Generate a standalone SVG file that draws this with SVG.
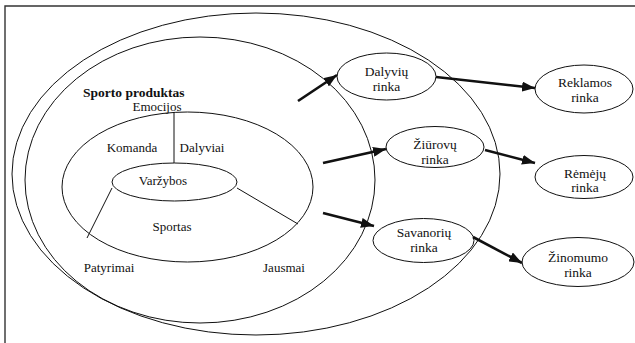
<svg xmlns="http://www.w3.org/2000/svg" width="635" height="343" viewBox="0 0 635 343">
<style>
.e{fill:none;stroke:#111;stroke-width:1}
.n{fill:none;stroke:#111;stroke-width:1}
text{font-family:'Liberation Serif','Times New Roman',serif;font-size:13px;fill:#111;text-anchor:middle}
.b{font-weight:bold;text-anchor:start;font-size:13.5px}
.r{font-size:13.5px}
.l{fill:none;stroke:#111;stroke-width:1}
.a{fill:none;stroke:#111;stroke-width:2.6;marker-end:url(#ah)}
</style>
<defs>
<marker id="ah" markerUnits="userSpaceOnUse" markerWidth="14" markerHeight="10" refX="13" refY="5" orient="auto">
<path d="M0,0 L13,5 L0,10 Z" fill="#111"/>
</marker>
</defs>
<rect width="635" height="343" fill="#fff"/>
<path d="M5,343 V6 H635" fill="none" stroke="#333" stroke-width="1.4"/>
<g id="outer">
<ellipse class="e" cx="256" cy="174" rx="244" ry="161"/>
</g>
<g id="product">
<ellipse class="e" cx="200" cy="180" rx="175" ry="143"/>
<text class="b" x="83" y="97">Sporto produktas</text>
<text x="157" y="111">Emocijos</text>
<text x="109" y="272">Patyrimai</text>
<text x="284" y="272">Jausmai</text>
</g>
<g id="sportas">
<ellipse class="e" cx="187.5" cy="187" rx="125.5" ry="75"/>
<text x="132" y="152">Komanda</text>
<text x="202" y="152">Dalyviai</text>
<text x="172" y="231">Sportas</text>
</g>
<g id="varzybos">
<ellipse class="e" cx="174.5" cy="182" rx="62.5" ry="19"/>
<text x="163" y="185">Varžybos</text>
</g>
<g id="connectors">
<path class="l" d="M174,113 V163"/>
<path class="l" d="M112,188 L87,238"/>
<path class="l" d="M237,188 L298,224"/>
<path class="a" d="M298,101 L337,75"/>
<path class="a" d="M436,77 L535,88"/>
<path class="a" d="M323,163 L386,149"/>
<path class="a" d="M485,150 L535,163"/>
<path class="a" d="M323,213 L374,226"/>
<path class="a" d="M473,237 L522,263"/>
</g>
<g id="dalyviu">
<ellipse class="n" cx="386.5" cy="76.5" rx="49.5" ry="23.5"/>
<text class="r" x="386.5" y="76">Dalyvių</text>
<text class="r" x="386.5" y="91">rinka</text>
</g>
<g id="reklamos">
<ellipse class="n" cx="584" cy="89" rx="49" ry="24"/>
<text class="r" x="585" y="87">Reklamos</text>
<text class="r" x="585" y="102">rinka</text>
</g>
<g id="ziurovu">
<ellipse class="n" cx="435" cy="147" rx="49" ry="20.5"/>
<text class="r" x="435" y="149">Žiūrovų</text>
<text class="r" x="435" y="164">rinka</text>
</g>
<g id="remeju">
<ellipse class="n" cx="584" cy="177" rx="49" ry="21.5"/>
<text class="r" x="585" y="178">Rėmėjų</text>
<text class="r" x="585" y="192">rinka</text>
</g>
<g id="savanoriu">
<ellipse class="n" cx="423.5" cy="240.5" rx="50.5" ry="22"/>
<text class="r" x="424" y="237">Savanorių</text>
<text class="r" x="424" y="252">rinka</text>
</g>
<g id="zinomumo">
<ellipse class="n" cx="578" cy="262" rx="56" ry="24.5"/>
<text class="r" x="578" y="262">Žinomumo</text>
<text class="r" x="578" y="277">rinka</text>
</g>
</svg>
